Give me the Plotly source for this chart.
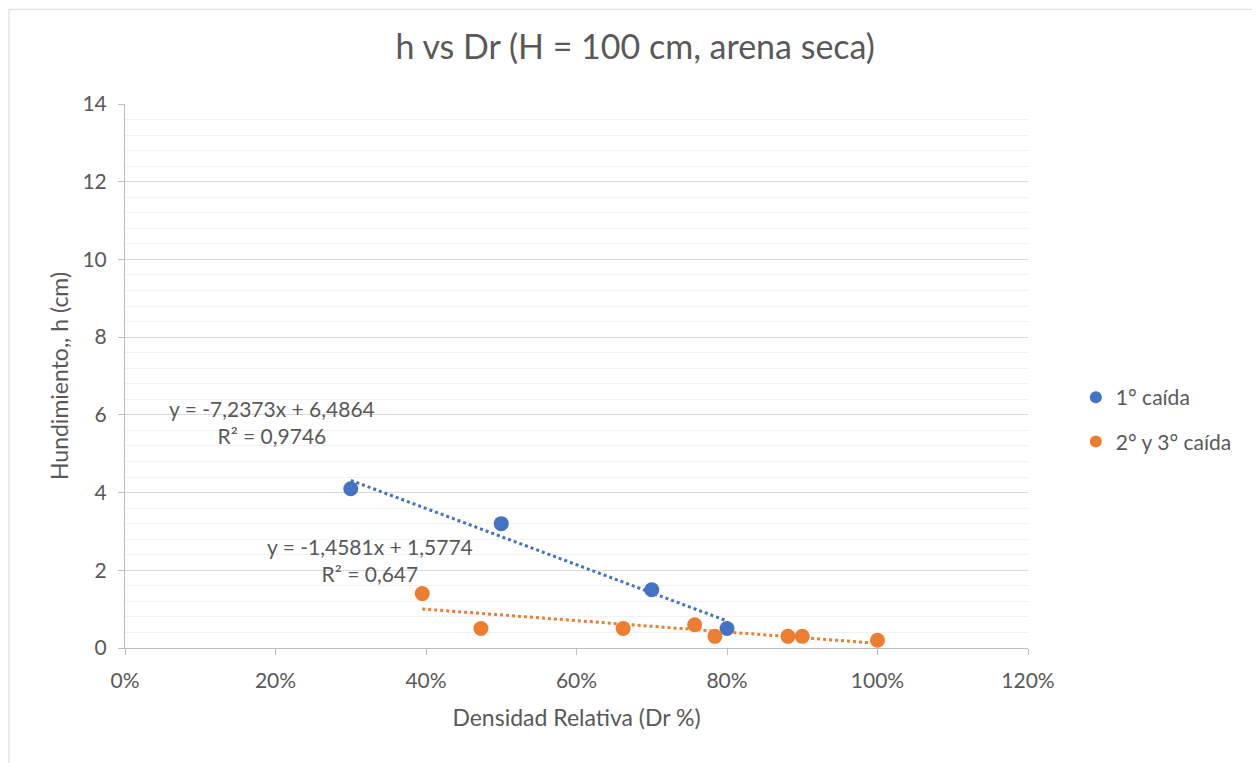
import numpy as np
import plotly.graph_objects as go

# Data
dr_caida1 = [0.30, 0.50, 0.70, 0.80]
h_caida1 = [4.1, 3.2, 1.5, 0.5]
dr_caida23 = [0.395, 0.473, 0.662, 0.757, 0.784, 0.881, 0.90, 1.00]
h_caida23 = [1.4, 0.5, 0.5, 0.6, 0.3, 0.3, 0.3, 0.2]
series_names = ["1° caída", "2° y 3° caída"]
eq_labels = ["y = -7,2373x + 6,4864<br>R² = 0,9746", "y = -1,4581x + 1,5774<br>R² = 0,647"]

BLUE = "#4472C4"
ORANGE = "#ED7D31"
FONT = "Lato, Carlito, Calibri, sans-serif"
TXT = "#595959"

fig = go.Figure()

for xs, ys, col in [(dr_caida1, h_caida1, BLUE), (dr_caida23, h_caida23, ORANGE)]:
    m, b = np.polyfit(xs, ys, 1)
    xt = [min(xs), max(xs)]
    fig.add_trace(go.Scatter(x=xt, y=[m * v + b for v in xt], mode="lines",
                             line=dict(color=col, width=3, dash="dot"),
                             showlegend=False, hoverinfo="skip"))

for i, (xs, ys, col) in enumerate([(dr_caida1, h_caida1, BLUE), (dr_caida23, h_caida23, ORANGE)]):
    fig.add_trace(go.Scatter(x=xs, y=ys, mode="markers", name=series_names[i],
                             legendgroup=f"g{i}",
                             marker=dict(color=col, size=15)))

fig.add_annotation(x=0.195, y=5.82, xref="x", yref="y", text=eq_labels[0], showarrow=False,
                   font=dict(family=FONT, size=21, color=TXT), align="center")
fig.add_annotation(x=0.325, y=2.27, xref="x", yref="y", text=eq_labels[1], showarrow=False,
                   font=dict(family=FONT, size=21, color=TXT), align="center")

# chart border
fig.add_shape(type="rect", xref="paper", yref="paper", x0=-0.1285, x1=1.3, y0=-0.3, y1=1.174,
              line=dict(color="#D9D9D9", width=1), layer="below")

fig.update_layout(
    width=1252, height=755,
    margin=dict(l=117, r=232, t=96, b=115),
    paper_bgcolor="white", plot_bgcolor="white",
    font=dict(family=FONT, size=20, color=TXT),
    title=dict(text="h vs Dr (H = 100 cm, arena seca)", x=0.501, xanchor="center",
               y=0.9476, yanchor="middle", font=dict(family=FONT, size=34, color=TXT)),
    legend=dict(x=0.053 + 1.0, y=0.42, xanchor="left", yanchor="middle",
                font=dict(family=FONT, size=21, color=TXT),
                traceorder="grouped", tracegroupgap=14, itemsizing="constant"),
    showlegend=True,
)

fig.update_xaxes(range=[0, 1.2], dtick=0.2, tick0=0, tickformat=".0%",
                 showgrid=False, zeroline=False, showline=True, linecolor="#BFBFBF", linewidth=1,
                 ticks="outside", ticklen=6, tickcolor="#BFBFBF", ticklabelstandoff=8,
                 tickfont=dict(family=FONT, size=21, color=TXT),
                 title=dict(text="Densidad Relativa (Dr %)", font=dict(family=FONT, size=23, color=TXT), standoff=18))
fig.update_yaxes(range=[0, 14], dtick=2, tick0=0,
                 showgrid=True, gridcolor="#D9D9D9", gridwidth=1,
                 minor=dict(dtick=0.4, showgrid=True, gridcolor="#F2F2F2", gridwidth=1),
                 zeroline=False, showline=True, linecolor="#BFBFBF", linewidth=1,
                 ticks="outside", ticklen=6, tickcolor="#BFBFBF", ticklabelstandoff=7,
                 tickfont=dict(family=FONT, size=21, color=TXT),
                 title=dict(text="Hundimiento,, h (cm)", font=dict(family=FONT, size=23, color=TXT), standoff=7))

fig.write_html("out.html")
